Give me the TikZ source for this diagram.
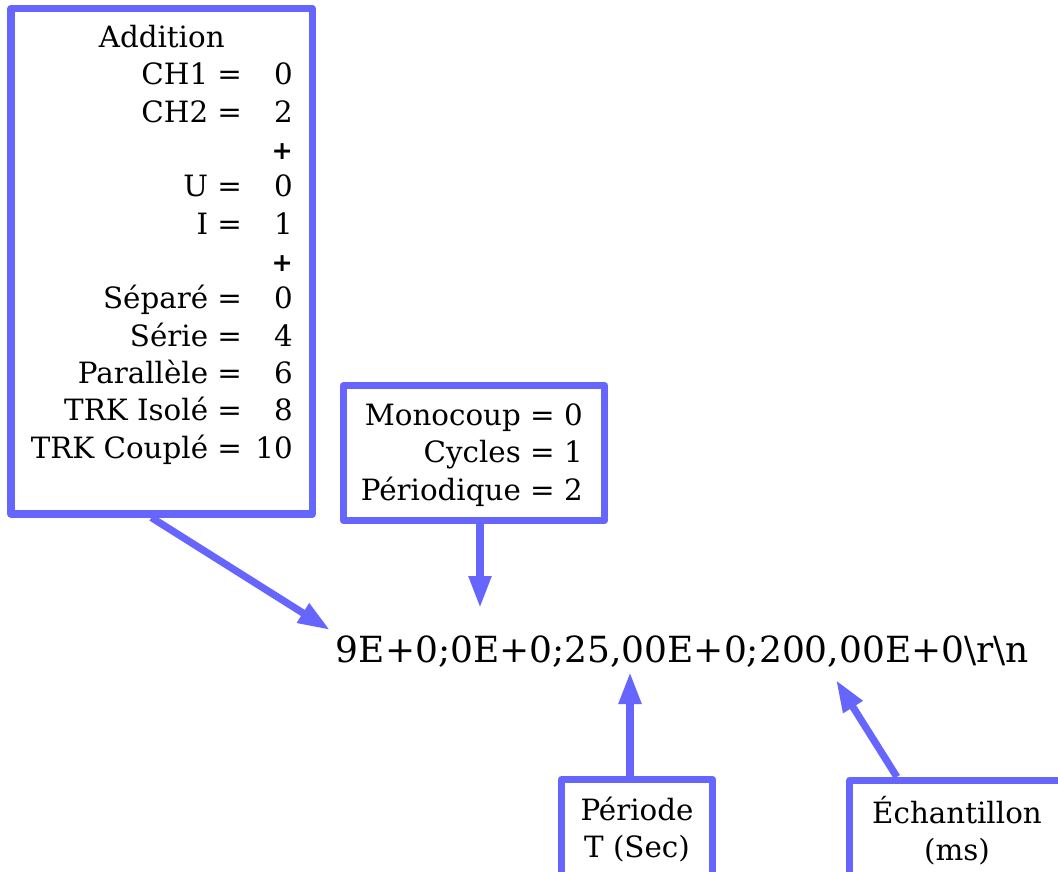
\documentclass[tikz,border=0pt]{standalone}
\usepackage{fontspec}
\setmainfont{DejaVu Serif}
\setsansfont{DejaVu Sans}
\usepackage{xcolor}
\usetikzlibrary{shapes,arrows.meta}
\definecolor{frame}{RGB}{102,102,255}
\newcommand{\addsign}{{\sffamily\bfseries\fontsize{19}{28}\selectfont +}}

\begin{document}
\begin{tikzpicture}[x=0.75pt,y=-0.75pt]
  \useasboundingbox (0,0) rectangle (1058,872);
  \tikzstyle{box}=[rectangle,draw=frame,line width=5.4pt,line join=round]
  \tikzstyle{pointer}=[draw=frame,line width=5.4pt,-{Triangle[length=24pt,width=16pt]}]
  \tikzstyle{every node}=[inner sep=0pt,font=\fontsize{22}{28}\selectfont]
  % frames
  \node[box,minimum width=226.1pt,minimum height=379.1pt] (add) at (161.75,261.25) {};
  \node[box,minimum width=195.75pt,minimum height=101.25pt] (mode) at (474,453) {};
  \node[box,minimum width=113.25pt,minimum height=90.4pt] (per) at (637,839.75) {};
  \node[box,minimum width=172.9pt,minimum height=89.6pt] (ech) at (964.75,840.25) {};
  % texts
  \node[anchor=north east] (addtxt) at (293,21) {\begin{tabular}{@{}r@{\hspace{10pt}}r@{}}
    \multicolumn{2}{c}{Addition}\\
    CH1 = & 0\\
    CH2 = & 2\\
    & \addsign\\
    U = & 0\\
    I = & 1\\
    & \addsign\\
    Séparé = & 0\\
    Série = & 4\\
    Parallèle = & 6\\
    TRK Isolé = & 8\\
    TRK Couplé = & 10
  \end{tabular}};
  \node[anchor=north east] (modetxt) at (583,399) {\begin{tabular}{@{}r@{}}
    Monocoup = 0\\
    Cycles = 1\\
    Périodique = 2
  \end{tabular}};
  \node[anchor=north] (pertxt) at (637,794) {\begin{tabular}{@{}c@{}}Période\\T (Sec)\end{tabular}};
  \node[anchor=north] (echtxt) at (957,796) {\begin{tabular}{@{}c@{}}Échantillon\\(ms)\end{tabular}};
  \node[anchor=base,font=\fontsize{27}{32}\selectfont] (msg) at (682.5,662)
    {9E+0;0E+0;25,00E+0;200,00E+0\textbackslash r\textbackslash n};
  % arrows
  \coordinate (tipA) at (330,630);
  \coordinate (tipB) at (480,608);
  \coordinate (tipC) at (630,672);
  \coordinate (tipD) at (836,680);
  \draw[pointer] ([xshift=108pt]add.south west) -- (tipA);
  \draw[pointer] ([xshift=4.5pt]mode.south) -- (tipB);
  \draw[pointer] ([xshift=-5.25pt]per.north) -- (tipC);
  \draw[pointer] ([xshift=38.25pt]ech.north west) -- (tipD);
\end{tikzpicture}
\end{document}
